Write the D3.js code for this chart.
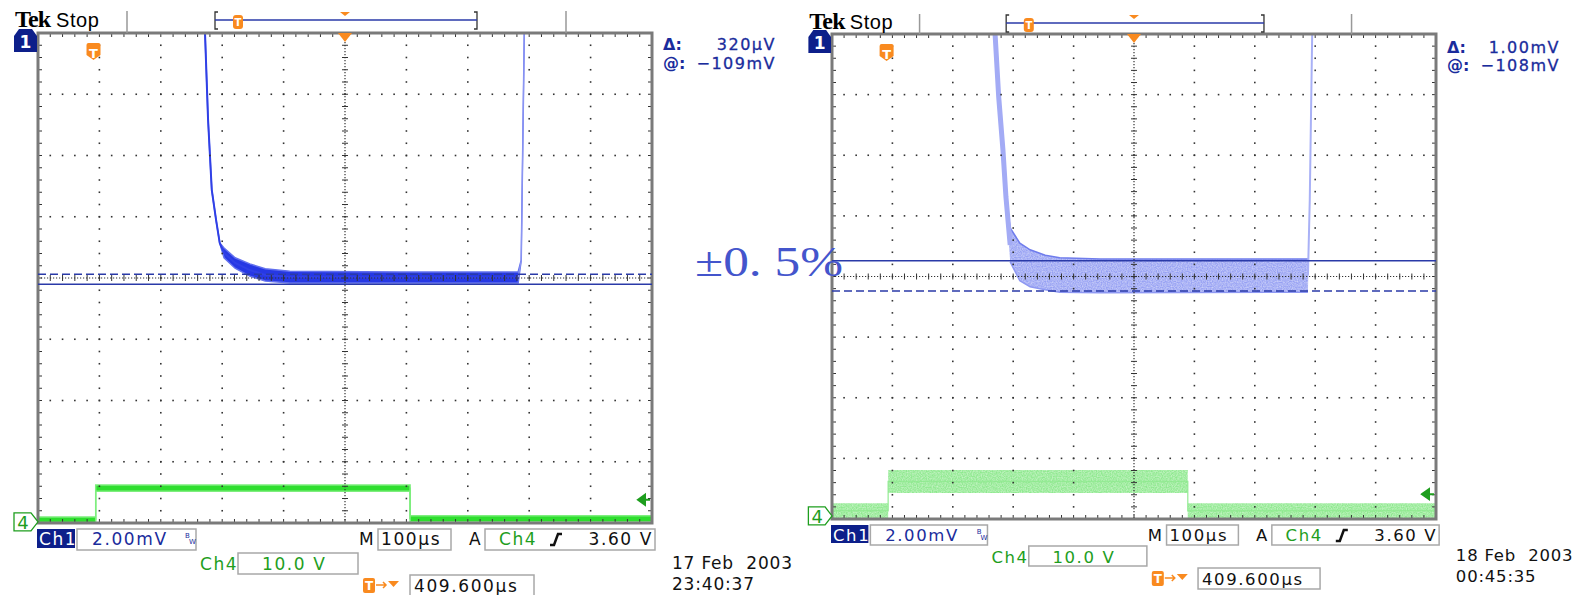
<!DOCTYPE html>
<html>
<head>
<meta charset="utf-8">
<script src="https://cdn.jsdelivr.net/npm/d3@7"></script>
<style>
  body { margin: 0; background: #fff; }
  svg { display: block; }
  text { font-family: "DejaVu Sans", sans-serif; }
</style>
</head>
<body>
<div id="vis"></div>
<script>
// graticule: 10 x 8 divisions, values below are in divisions
// (time 0..10 left to right, level -4..4 about the centre line)

// ---- left capture, 17 Feb 2003 ----
const ch1TimeA  = [2.72, 2.77, 2.83, 2.90, 2.96, 3.03, 3.21, 3.45, 3.70, 4.10, 5.90, 7.82, 7.87, 7.92];
const ch1UpperA = [4.00, 2.58, 1.44, 0.95, 0.57, 0.49, 0.33, 0.23, 0.15, 0.11, 0.10, 0.10, 0.29, 4.00];
const ch1LowerA = [4.00, 2.58, 1.44, 0.95, 0.57, 0.33, 0.16, 0.03, -0.05, -0.08, -0.08, -0.08, 0.29, 4.00];
const ch4TimeA  = [0, 0.94, 0.94, 6.06, 6.06, 10];
const ch4UpperA = [-3.90, -3.90, -3.38, -3.38, -3.88, -3.88];
const ch4LowerA = [-3.99, -3.99, -3.48, -3.48, -3.98, -3.98];
const cursorsA  = [-0.10, 0.06];        // solid, dashed
const ch4GroundA = -3.98;
const readoutA  = ['320μV', '−109mV'];
const dateA     = ['17 Feb  2003', '23:40:37'];

// ---- right capture, 18 Feb 2003 ----
const ch1TimeB  = [2.70, 2.76, 2.83, 2.88, 2.95, 3.11, 3.28, 3.53, 3.77, 4.44, 7.88, 7.91, 7.95];
const ch1UpperB = [4.00, 2.96, 2.09, 1.31, 0.80, 0.55, 0.44, 0.35, 0.31, 0.29, 0.29, 1.26, 4.00];
const ch1LowerB = [4.00, 2.96, 2.09, 1.31, 0.24, -0.07, -0.17, -0.22, -0.26, -0.27, -0.26, 1.26, 4.00];
const ch4TimeB  = [0, 0.93, 0.93, 5.89, 5.89, 10];
const ch4UpperB = [-3.74, -3.74, -3.19, -3.19, -3.74, -3.74];
const ch4LowerB = [-3.99, -3.99, -3.57, -3.57, -3.99, -3.99];
const cursorsB  = [0.26, -0.24];
const ch4GroundB = -3.95;
const readoutB  = ['1.00mV', '−108mV'];
const dateB     = ['18 Feb  2003', '00:45:35'];

// shared settings readout
const ch1Scale = '2.00mV';
const ch4Scale = '10.0 V';
const timeScale = '100μs';
const trigLevel = '3.60 V';
const trigLevelDiv = 0.36;     // 3.60 V at 10.0 V/div
const horizPosUs = 409.6;
const usPerDiv = 100;

const NAVY = '#1a2c9c';
const GREEN = '#1e9e1e';
const ORANGE = '#f98a1f';

const svg = d3.select('#vis').append('svg')
  .attr('width', 1580).attr('height', 595);

// speckle for the persistence-mode bands
const grain = svg.append('defs').append('filter').attr('id', 'grain')
  .attr('x', 0).attr('y', 0).attr('width', 1).attr('height', 1);
grain.append('feTurbulence').attr('type', 'fractalNoise').attr('baseFrequency', 0.8)
  .attr('numOctaves', 1).attr('seed', 3).attr('result', 'n');
grain.append('feColorMatrix').attr('in', 'n').attr('type', 'matrix')
  .attr('values', '0 0 0 0 0  0 0 0 0 0  0 0 0 0 0  0 0 0 -0.9 1.25').attr('result', 'a');
grain.append('feComposite').attr('in', 'SourceGraphic').attr('in2', 'a').attr('operator', 'in');

function drawScope(P, D) {
  const s = P.s;
  const X = v => P.x0 + v * s;
  const x = d3.scaleLinear().domain([0, 10]).range([P.x0, P.x1]);
  const y = d3.scaleLinear().domain([-4, 4]).range([P.y1, P.y0]);
  const g = svg.append('g');

  g.append('clipPath').attr('id', 'clip' + P.id).append('rect')
    .attr('x', P.x0).attr('y', P.y0)
    .attr('width', P.x1 - P.x0).attr('height', P.y1 - P.y0);

  // traces
  const tr = g.append('g').attr('clip-path', `url(#clip${P.id})`);
  const ch1 = D.ch1Time.map((t, i) => ({ t, hi: D.ch1Upper[i], lo: D.ch1Lower[i] }));
  const ch4 = D.ch4Time.map((t, i) => ({ t, hi: D.ch4Upper[i], lo: D.ch4Lower[i] }));
  const area = d3.area().x(d => x(d.t)).y0(d => y(d.lo)).y1(d => y(d.hi));
  const mid = d3.line().x(d => x(d.t)).y(d => y((d.hi + d.lo) / 2));
  const top = d3.line().x(d => x(d.t)).y(d => y(d.hi));
  const bot = d3.line().x(d => x(d.t)).y(d => y(d.lo));

  if (P.thin) {
    tr.append('path').attr('d', mid(ch4)).attr('fill', 'none')
      .attr('stroke', '#3ee23e').attr('stroke-width', 1.2);
    tr.append('path').attr('d', area(ch4)).attr('fill', '#2ede2e')
      .attr('stroke', '#7eee7e').attr('stroke-width', 1.5);
    tr.append('path').attr('d', area(ch1)).attr('fill', '#2638e4')
      .attr('stroke', '#6270ee').attr('stroke-width', 1.5);
    tr.append('path').attr('d', mid(ch1.slice(0, -2))).attr('fill', 'none')
      .attr('stroke', '#3040e6').attr('stroke-width', 2);
    tr.append('path').attr('d', mid(ch1.slice(-3))).attr('fill', 'none')
      .attr('stroke', '#8c96f3').attr('stroke-width', 1.2);
  } else {
    tr.append('path').attr('d', mid(ch4)).attr('fill', 'none')
      .attr('stroke', '#a8efa8').attr('stroke-width', 1.5);
    tr.append('path').attr('d', area(ch4)).attr('fill', '#8fe98f').attr('filter', 'url(#grain)');
    tr.append('path').attr('d', area(ch1)).attr('fill', '#97a1f3').attr('filter', 'url(#grain)');
    tr.append('path').attr('d', top(ch1.slice(3, -2))).attr('fill', 'none')
      .attr('stroke', '#6f7cec').attr('stroke-width', 1.5);
    tr.append('path').attr('d', bot(ch1.slice(4, -2))).attr('fill', 'none')
      .attr('stroke', '#8e98f2').attr('stroke-width', 1.5);
    tr.append('path').attr('d', mid(ch1.slice(0, 5))).attr('fill', 'none')
      .attr('stroke', '#a3abf5').attr('stroke-width', 5);
    tr.append('path').attr('d', mid(ch1.slice(-3))).attr('fill', 'none')
      .attr('stroke', '#a9b1f6').attr('stroke-width', 2);
  }

  // graticule
  const grid = g.append('g');
  const fineX = d3.range(0, 51).map(i => i / 5);
  const fineY = d3.range(0, 41).map(i => i / 5 - 4);
  const dots = [];
  d3.range(1, 10).filter(i => i !== 5).forEach(i => fineY.forEach(v => dots.push([x(i), y(v)])));
  d3.range(-3, 4).filter(j => j !== 0).forEach(j => fineX.forEach(t => dots.push([x(t), y(j)])));
  grid.selectAll('rect.dot').data(dots).join('rect').attr('class', 'dot')
    .attr('x', d => d[0] - 0.8).attr('y', d => d[1] - 0.8)
    .attr('width', 1.6).attr('height', 1.6).attr('fill', '#333');

  grid.append('line').attr('x1', x(5)).attr('x2', x(5)).attr('y1', P.y0).attr('y2', P.y1)
    .attr('stroke', '#333').attr('stroke-width', 1.2).attr('stroke-dasharray', '1.2,1.8');
  grid.append('line').attr('x1', P.x0).attr('x2', P.x1).attr('y1', y(0)).attr('y2', y(0))
    .attr('stroke', '#333').attr('stroke-width', 1.2).attr('stroke-dasharray', '1.2,1.8');

  const ticks = [];
  fineY.forEach(v => {
    ticks.push([x(5) - 3, y(v), x(5) + 3, y(v)]);
    ticks.push([P.x0, y(v), P.x0 + 4, y(v)]);
    ticks.push([P.x1 - 4, y(v), P.x1, y(v)]);
  });
  fineX.forEach(t => {
    ticks.push([x(t), y(0) - 3, x(t), y(0) + 3]);
    ticks.push([x(t), P.y0, x(t), P.y0 + 4]);
    ticks.push([x(t), P.y1 - 4, x(t), P.y1]);
  });
  grid.selectAll('line.tick').data(ticks).join('line').attr('class', 'tick')
    .attr('x1', d => d[0]).attr('y1', d => d[1]).attr('x2', d => d[2]).attr('y2', d => d[3])
    .attr('stroke', '#333').attr('stroke-width', 1);

  grid.append('rect').attr('x', P.x0).attr('y', P.y0)
    .attr('width', P.x1 - P.x0).attr('height', P.y1 - P.y0)
    .attr('fill', 'none').attr('stroke', '#7a7a7a').attr('stroke-width', 3);

  // cursors
  g.append('line').attr('x1', P.x0).attr('x2', P.x1)
    .attr('y1', y(D.cursors[0])).attr('y2', y(D.cursors[0]))
    .attr('stroke', '#2a3aa8').attr('stroke-width', 1.5);
  g.append('line').attr('x1', P.x0).attr('x2', P.x1)
    .attr('y1', y(D.cursors[1])).attr('y2', y(D.cursors[1]))
    .attr('stroke', '#2a3aa8').attr('stroke-width', 1.5).attr('stroke-dasharray', '8,4');

  // channel markers
  const y1m = P.y0;
  g.append('path')
    .attr('d', `M${X(-24)},${y1m + 19} V${y1m + 3} L${X(-19)},${y1m - 4} H${X(-6)} L${X(-1)},${y1m + 3} V${y1m + 19} Z`)
    .attr('fill', '#0d1f8a');
  g.append('text').attr('x', X(-12.5)).attr('y', y1m + 15).attr('text-anchor', 'middle')
    .attr('fill', '#fff').attr('font-size', 17).attr('font-weight', 'bold').text('1');

  const gy = y(D.ch4Ground);
  g.append('path')
    .attr('d', `M${X(-24)},${gy - 9} H${X(-7)} L${X(0)},${gy} L${X(-7)},${gy + 9} H${X(-24)} Z`)
    .attr('fill', '#fff').attr('stroke', GREEN).attr('stroke-width', 1.3);
  g.append('text').attr('x', X(-15)).attr('y', gy + 7).attr('text-anchor', 'middle')
    .attr('fill', GREEN).attr('font-size', 18).text('4');

  // trigger level arrow
  const ty = y(D.ch4Ground + trigLevelDiv);
  g.append('path')
    .attr('d', `M${P.x1 - 14},${ty} L${P.x1 - 7},${ty - 5} L${P.x1 - 7},${ty + 5} Z M${P.x1 - 8},${ty} H${P.x1 - 2}`)
    .attr('fill', GREEN).attr('stroke', GREEN).attr('stroke-width', 2);

  // trigger position marker
  const tx = x(5 - horizPosUs / usPerDiv);
  g.append('path')
    .attr('d', `M${tx - 7},${P.y0 + 12} q0,-2 2,-2 h10 q2,0 2,2 v10 l-7,5 l-7,-5 Z`)
    .attr('fill', ORANGE);
  g.append('text').attr('x', tx).attr('y', P.y0 + 25).attr('text-anchor', 'middle')
    .attr('fill', '#fff').attr('font-size', 13).attr('font-weight', 'bold').text('T');
  // expansion point
  g.append('path').attr('d', `M${x(5) - 7},${P.y0} H${x(5) + 7} L${x(5)},${P.y0 + 9} Z`)
    .attr('fill', ORANGE);

  // header
  g.append('text').attr('x', X(-23)).attr('y', P.headY)
    .style('font-family', '"Liberation Serif", serif').attr('font-weight', 'bold')
    .attr('font-size', 24).attr('letter-spacing', -0.8).text('Tek');
  g.append('text').attr('x', X(18)).attr('y', P.headY)
    .style('font-family', '"Liberation Sans", sans-serif')
    .attr('font-size', 20).attr('letter-spacing', 0.6).text('Stop');
  [X(89), X(528)].forEach(v => g.append('line').attr('x1', v).attr('x2', v)
    .attr('y1', P.recY - 9).attr('y2', P.y0).attr('stroke', '#999').attr('stroke-width', 1.5));
  const b0 = X(177), b1 = X(439);
  g.append('path')
    .attr('d', `M${b0 + 3},${P.recY - 8} H${b0} V${P.recY + 9} H${b0 + 3} M${b1 - 3},${P.recY - 8} H${b1} V${P.recY + 9} H${b1 - 3}`)
    .attr('fill', 'none').attr('stroke', '#333').attr('stroke-width', 1.3);
  g.append('line').attr('x1', b0).attr('x2', b1).attr('y1', P.recY).attr('y2', P.recY)
    .attr('stroke', '#2a3aa8').attr('stroke-width', 1.5);
  const rt = X(200);
  g.append('rect').attr('x', rt - 5).attr('y', P.recY - 5).attr('width', 10).attr('height', 14)
    .attr('rx', 3).attr('fill', ORANGE);
  g.append('text').attr('x', rt).attr('y', P.recY + 6).attr('text-anchor', 'middle')
    .attr('fill', '#fff').attr('font-size', 10).attr('font-weight', 'bold').text('T');
  g.append('path').attr('d', `M${x(5) - 5},${P.recY - 8} H${x(5) + 5} L${x(5)},${P.recY - 4} Z`)
    .attr('fill', ORANGE);

  // cursor readout
  const rx = P.x1 + 11, rEnd = P.x1 + 124;
  [['Δ:', D.readout[0], P.rdY[0]], ['@:', D.readout[1], P.rdY[1]]].forEach(([l, v, yy]) => {
    g.append('text').attr('x', rx).attr('y', yy).attr('fill', NAVY)
      .attr('font-size', 16).attr('font-weight', 'bold').text(l);
    g.append('text').attr('x', rEnd).attr('y', yy).attr('text-anchor', 'end').attr('fill', NAVY)
      .attr('font-size', 16).attr('letter-spacing', 1.5)
      .attr('stroke', NAVY).attr('stroke-width', 0.3).text(v);
  });

  // status boxes
  const fs = P.fs, ls = 1.6;
  const box = (a, b, yy, h) => g.append('rect').attr('x', X(a)).attr('y', yy)
    .attr('width', (b - a) * s).attr('height', h)
    .attr('fill', '#fff').attr('stroke', '#a8a8a8').attr('stroke-width', 1.5);
  const label = (a, yy, t, col) => g.append('text').attr('x', X(a)).attr('y', yy).attr('fill', col)
    .attr('font-size', fs).attr('letter-spacing', ls).text(t);
  const r1 = P.rows[0], r2 = P.rows[1], r3 = P.rows[2], bh = P.boxH;

  g.append('rect').attr('x', X(-1)).attr('y', r1).attr('width', 38 * s).attr('height', bh - 2)
    .attr('fill', '#0d1f8a');
  label(1, r1 + 16, 'Ch1', '#fff');
  box(39, 158, r1, bh);
  label(54, r1 + 16, ch1Scale, NAVY);
  g.append('text').attr('x', X(147)).attr('y', r1 + 9).attr('fill', NAVY).attr('font-size', 7).text('B');
  g.append('text').attr('x', X(151)).attr('y', r1 + 15).attr('fill', NAVY).attr('font-size', 7).text('W');

  label(321, r1 + 16, 'M', '#111');
  box(340, 413, r1, bh);
  label(343, r1 + 16, timeScale, '#111');
  label(431, r1 + 16, 'A', '#111');
  box(447, 617, r1, bh);
  label(461, r1 + 16, 'Ch4', GREEN);
  const ea = X(512);
  g.append('path').attr('d', `M${ea},${r1 + 16} H${ea + 4} L${ea + 8},${r1 + 5} H${ea + 12}`)
    .attr('fill', 'none').attr('stroke', '#111').attr('stroke-width', 2.5);
  g.append('text').attr('x', X(615)).attr('y', r1 + 16).attr('text-anchor', 'end').attr('fill', '#111')
    .attr('font-size', fs).attr('letter-spacing', ls).text(trigLevel);

  label(162, r2 + 16.5, 'Ch4', GREEN);
  box(200, 320, r2, bh);
  label(224, r2 + 16.5, ch4Scale, GREEN);

  const tt = X(325);
  g.append('rect').attr('x', tt).attr('y', r3 + 3).attr('width', 12).attr('height', 15)
    .attr('rx', 2).attr('fill', ORANGE);
  g.append('text').attr('x', tt + 6).attr('y', r3 + 15).attr('text-anchor', 'middle').attr('fill', '#fff')
    .attr('font-size', 12).attr('font-weight', 'bold').text('T');
  g.append('path').attr('d', `M${tt + 13},${r3 + 10} H${tt + 23} M${tt + 20},${r3 + 7} L${tt + 23},${r3 + 10} L${tt + 20},${r3 + 13}`)
    .attr('fill', 'none').attr('stroke', ORANGE).attr('stroke-width', 1.5);
  g.append('path').attr('d', `M${tt + 25},${r3 + 6} H${tt + 36} L${tt + 30.5},${r3 + 12} Z`).attr('fill', ORANGE);
  box(372, 496, r3, bh + 1);
  label(376, r3 + 17, horizPosUs.toFixed(3) + 'μs', '#111');

  g.append('text').attr('x', X(634)).attr('y', P.dateY[0]).attr('fill', '#111')
    .attr('font-size', fs).attr('letter-spacing', 0.8).style('white-space', 'pre').text(D.date[0]);
  g.append('text').attr('x', X(634)).attr('y', P.dateY[1]).attr('fill', '#111')
    .attr('font-size', fs).attr('letter-spacing', 0.8).text(D.date[1]);

  return { x, y };
}

drawScope(
  { id: 'A', x0: 38, x1: 652, y0: 33, y1: 523, s: 1, thin: true,
    headY: 27, recY: 20, rdY: [50, 69], rows: [529, 553, 575], boxH: 21, fs: 17, dateY: [569, 590] },
  { ch1Time: ch1TimeA, ch1Upper: ch1UpperA, ch1Lower: ch1LowerA,
    ch4Time: ch4TimeA, ch4Upper: ch4UpperA, ch4Lower: ch4LowerA,
    cursors: cursorsA, ch4Ground: ch4GroundA, readout: readoutA, date: dateA });

const right = drawScope(
  { id: 'B', x0: 832, x1: 1436, y0: 34, y1: 519, s: 0.984, thin: false,
    headY: 29, recY: 23, rdY: [53, 71], rows: [525, 546, 568], boxH: 20, fs: 16.5, dateY: [561, 582] },
  { ch1Time: ch1TimeB, ch1Upper: ch1UpperB, ch1Lower: ch1LowerB,
    ch4Time: ch4TimeB, ch4Upper: ch4UpperB, ch4Lower: ch4LowerB,
    cursors: cursorsB, ch4Ground: ch4GroundB, readout: readoutB, date: dateB });

// tolerance band annotation
svg.append('text').attr('x', 695).attr('y', right.y(cursorsB[0]) + 15)
  .attr('textLength', 148).attr('lengthAdjust', 'spacingAndGlyphs')
  .style('font-family', '"Liberation Serif", serif').attr('font-size', 43)
  .attr('fill', '#4455cc').style('white-space', 'pre').text('±0. 5%');
</script>
</body>
</html>
